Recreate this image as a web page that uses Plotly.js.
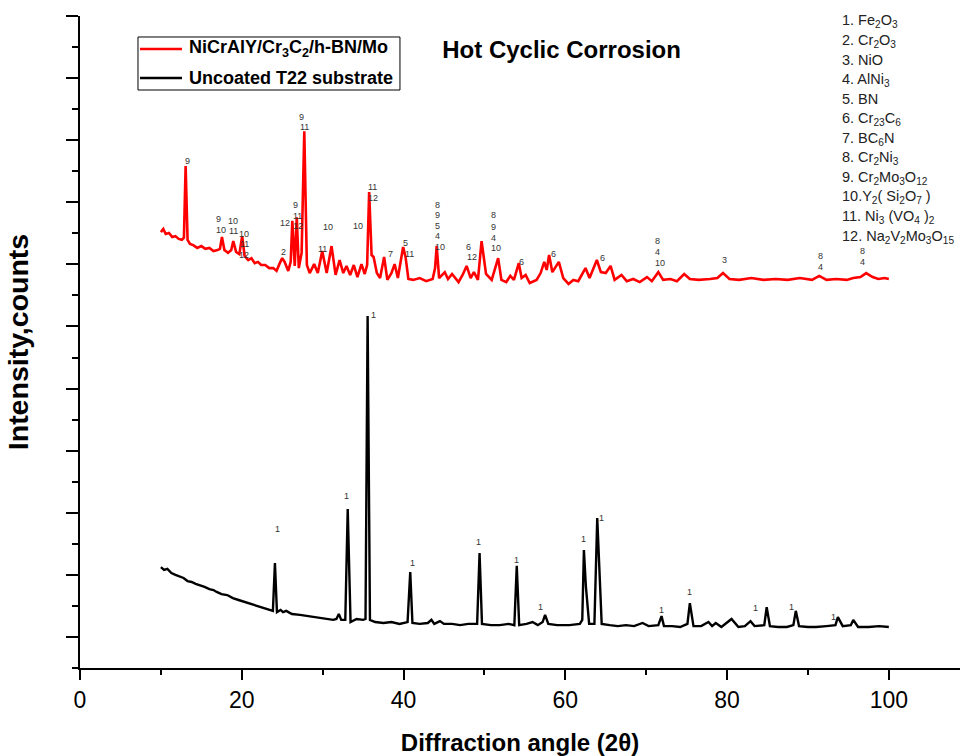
<!DOCTYPE html>
<html>
<head>
<meta charset="utf-8">
<script src="https://cdn.plot.ly/plotly-3.0.1.min.js"></script>
<style>html,body{margin:0;padding:0;background:#fff;}#chart{width:960px;height:756px;}</style>
</head>
<body>
<div id="chart"></div>
<script>
// ---- Data ----
const coatedAngle = [10.0,10.3,10.6,11.0,11.4,11.8,12.2,12.6,12.85,13.06,13.3,13.6,14.0,14.5,15.0,15.5,16.0,16.5,17.0,17.3,17.55,17.85,18.3,18.7,18.95,19.3,19.7,20.05,20.35,20.8,21.2,21.6,22.0,22.4,22.9,23.4,23.9,24.3,24.7,25.0,25.3,25.75,26.05,26.25,26.55,26.8,27.05,27.4,27.73,28.05,28.4,28.95,29.4,29.95,30.5,31.1,31.6,32.1,32.55,32.95,33.4,33.85,34.3,34.8,35.2,35.5,35.75,36.05,36.3,36.7,37.1,37.6,38.0,38.5,38.9,39.3,39.95,40.25,40.6,41.2,42.0,42.8,43.6,43.9,44.1,44.4,45.1,45.5,46.0,46.8,47.3,47.8,48.3,48.7,49.2,49.65,50.2,50.9,51.7,52.1,52.7,53.2,53.65,54.25,54.6,55.1,55.6,56.45,56.95,57.4,57.7,58.0,58.4,59.2,59.75,60.4,61.0,61.6,62.5,63.0,63.9,64.4,65.0,65.6,66.1,66.95,67.6,68.4,69.2,70.1,70.7,71.5,72.1,73.0,73.8,74.7,75.4,76.5,77.9,78.8,79.5,80.3,81.5,83.0,84.5,86.0,87.5,89.0,90.5,91.4,92.3,93.5,94.8,95.6,96.5,97.2,98.0,98.7,99.5,100.0];
const coatedCounts = [14.04,14.14,13.98,14.01,13.88,13.91,13.82,13.79,13.86,16.17,13.79,13.66,13.62,13.53,13.59,13.50,13.53,13.43,13.46,13.50,13.88,13.46,13.37,13.46,13.75,13.40,13.33,13.91,13.27,13.14,13.20,13.04,13.08,12.98,12.98,12.88,12.88,12.79,13.04,13.20,13.08,12.79,13.08,14.40,12.95,14.52,12.88,13.37,17.29,12.98,12.72,13.01,12.72,13.43,12.72,13.59,12.66,13.14,12.72,12.95,12.66,12.98,12.59,13.01,12.69,12.98,15.33,13.30,13.24,12.72,12.56,13.24,12.50,12.72,13.01,12.56,13.56,13.24,12.53,12.50,12.56,12.46,12.53,12.88,13.59,12.56,12.75,12.53,12.69,12.43,12.66,12.95,12.56,12.75,12.50,13.75,12.69,12.50,13.20,12.50,12.43,12.63,12.50,13.04,12.56,12.66,12.40,12.50,12.72,13.08,12.82,13.30,12.75,13.08,12.56,12.37,12.50,12.46,12.88,12.56,13.14,12.75,12.72,12.95,12.50,12.66,12.46,12.53,12.43,12.59,12.46,12.75,12.50,12.53,12.46,12.69,12.53,12.50,12.53,12.56,12.72,12.53,12.50,12.56,12.50,12.53,12.50,12.56,12.50,12.63,12.50,12.53,12.50,12.56,12.59,12.72,12.59,12.53,12.56,12.53];

const substrateAngle = [10.0,10.4,10.8,11.3,11.8,12.3,12.8,13.3,13.8,14.3,14.8,15.4,16.0,16.5,16.9,17.5,18.2,18.9,19.6,20.3,21.0,21.8,22.6,23.3,23.85,24.1,24.35,24.8,25.1,25.5,26.2,27.2,28.2,29.3,30.3,31.3,31.7,32.0,32.3,32.8,33.1,33.45,34.2,35.0,35.3,35.56,35.85,36.5,37.5,38.5,39.5,40.5,40.83,41.1,42.0,43.0,43.45,43.8,44.5,45.0,46.0,47.0,48.0,49.1,49.4,49.7,50.8,51.9,53.0,53.7,54.0,54.3,55.2,55.95,56.6,57.2,57.5,57.9,59.0,60.5,61.8,62.1,62.3,62.55,62.95,63.6,63.95,64.2,64.5,65.5,66.5,67.5,68.5,69.55,70.3,71.5,71.9,72.2,73.2,74.2,75.1,75.4,75.6,75.85,76.8,77.7,78.15,78.6,79.3,80.55,81.4,82.2,82.9,83.4,84.6,84.9,85.3,86.3,87.4,88.2,88.5,88.9,90.0,91.0,92.3,93.4,93.7,94.3,95.3,95.6,96.2,97.5,98.8,100.0];
const substrateCounts = [3.25,3.16,3.19,3.06,3.00,2.96,2.90,2.80,2.77,2.71,2.67,2.61,2.54,2.51,2.45,2.38,2.35,2.25,2.19,2.13,2.06,2.00,1.93,1.87,1.84,3.38,1.80,1.87,1.80,1.84,1.74,1.71,1.67,1.64,1.58,1.55,1.58,1.74,1.55,1.55,5.12,1.48,1.58,1.55,1.58,11.34,1.55,1.48,1.45,1.48,1.42,1.48,3.09,1.45,1.42,1.45,1.55,1.42,1.51,1.42,1.42,1.38,1.42,1.42,3.70,1.42,1.38,1.38,1.42,1.38,3.29,1.38,1.42,1.48,1.38,1.48,1.71,1.42,1.38,1.38,1.42,1.55,3.80,2.61,1.42,1.42,4.83,3.09,1.42,1.38,1.35,1.38,1.35,1.45,1.35,1.38,1.67,1.35,1.35,1.32,1.42,2.09,1.80,1.35,1.35,1.48,1.35,1.45,1.32,1.58,1.32,1.35,1.51,1.35,1.38,1.96,1.35,1.32,1.32,1.38,1.84,1.35,1.32,1.32,1.35,1.38,1.64,1.35,1.38,1.55,1.32,1.32,1.35,1.32];

// Peak phase labels (phase index number at a peak)
const coatedLabelAngle = [13.31,17.10,17.39,18.95,18.95,20.31,20.31,20.31,25.22,25.34,26.66,26.91,26.98,27.44,27.73,30.62,30.00,34.40,36.18,36.26,38.41,40.30,40.70,44.17,44.17,44.17,44.17,44.45,48.08,48.42,51.09,51.09,51.09,51.42,54.60,58.59,64.61,71.41,71.41,71.69,79.73,91.56,91.56,96.70,96.70];
const coatedLabelCounts = [16.33,14.45,14.11,14.41,14.07,13.97,13.65,13.30,13.40,14.32,14.91,14.56,14.23,17.76,17.41,14.20,13.48,14.24,15.48,15.13,13.33,13.68,13.33,14.91,14.58,14.24,13.90,13.56,13.57,13.23,14.59,14.22,13.86,13.52,13.09,13.33,13.19,13.75,13.41,13.06,13.14,13.27,12.91,13.44,13.09];
const coatedLabelText = ["9","9","10","10","11","10","11","12","2","12","9","11","12","9","11","10","11","10","11","12","7","5","11","8","9","5","4","10","6","12","8","9","4","10","6","6","6","8","4","10","3","8","4","8","4"];

const substrateLabelAngle = [24.39,32.97,36.34,41.12,49.32,53.98,56.98,62.21,64.52,71.90,75.40,83.56,87.97,93.11];
const substrateLabelCounts = [4.47,5.54,11.37,3.37,4.07,3.48,1.95,4.14,4.82,1.87,2.46,1.92,1.95,1.65];
const substrateLabelText = ["1","1","1","1","1","1","1","1","1","1","1","1","1","1"];

const phaseList = [
  "1. Fe<sub>2</sub>O<sub>3</sub>",
  "2. Cr<sub>2</sub>O<sub>3</sub>",
  "3. NiO",
  "4. AlNi<sub>3</sub>",
  "5. BN",
  "6. Cr<sub>23</sub>C<sub>6</sub>",
  "7. BC<sub>6</sub>N",
  "8. Cr<sub>2</sub>Ni<sub>3</sub>",
  "9. Cr<sub>2</sub>Mo<sub>3</sub>O<sub>12</sub>",
  "10.Y<sub>2</sub>( Si<sub>2</sub>O<sub>7</sub> )",
  "11. Ni<sub>3</sub> (VO<sub>4</sub> )<sub>2</sub>",
  "12. Na<sub>2</sub>V<sub>2</sub>Mo<sub>3</sub>O<sub>15</sub>"
];

const seriesNames = ["NiCrAlY/Cr<sub>3</sub>C<sub>2</sub>/h-BN/Mo", "Uncoated T22 substrate"];
const seriesColors = ['#ff0000', '#000000'];
const xTickVals = [0,20,40,60,80,100];

// ---- Build chart ----
const FONT = "Arial, 'Liberation Sans', sans-serif";
const traces = [
  {x: coatedAngle, y: coatedCounts, type: 'scatter', mode: 'lines', name: seriesNames[0],
   line: {color: seriesColors[0], width: 2.6}},
  {x: substrateAngle, y: substrateCounts, type: 'scatter', mode: 'lines', name: seriesNames[1],
   line: {color: seriesColors[1], width: 2.4}}
];

const annotations = [];
coatedLabelAngle.forEach((a, i) => annotations.push({
  x: a, y: coatedLabelCounts[i], xref: 'x', yref: 'y', text: coatedLabelText[i],
  showarrow: false, xanchor: 'center', yanchor: 'middle',
  font: {family: FONT, size: 9, color: '#333333'}
}));
substrateLabelAngle.forEach((a, i) => annotations.push({
  x: a, y: substrateLabelCounts[i], xref: 'x', yref: 'y', text: substrateLabelText[i],
  showarrow: false, xanchor: 'center', yanchor: 'middle',
  font: {family: FONT, size: 9, color: '#333333'}
}));
phaseList.forEach((t, i) => annotations.push({
  x: 0.864, y: (668 - (21 + i * 19.6)) / 652, xref: 'paper', yref: 'paper', text: t,
  showarrow: false, xanchor: 'left', yanchor: 'middle',
  font: {family: FONT, size: 14.5, color: '#222222'}
}));

// legend drawn as a framed box (paper coordinates)
const shapes = [
  {type: 'rect', xref: 'paper', yref: 'paper', x0: 0.0659, x1: 0.3636, y0: 0.8865, y1: 0.9678,
   line: {color: '#000', width: 1}, fillcolor: '#ffffff', layer: 'above'}
];
const legendRowsY = [0.9494, 0.9049];
seriesNames.forEach((n, i) => {
  shapes.push({type: 'line', xref: 'paper', yref: 'paper', x0: 0.0682, x1: 0.1159,
               y0: legendRowsY[i], y1: legendRowsY[i], line: {color: seriesColors[i], width: 2.4}, layer: 'above'});
  annotations.push({x: 0.1215, y: legendRowsY[i], xref: 'paper', yref: 'paper', text: '<b>' + n + '</b>',
                    showarrow: false, xanchor: 'left', yanchor: 'middle',
                    font: {family: FONT, size: 18, color: '#000'}});
});

const layout = {
  width: 960, height: 756,
  margin: {l: 80, r: 0, t: 16, b: 88},
  paper_bgcolor: '#ffffff', plot_bgcolor: '#ffffff',
  font: {family: FONT, color: '#000'},
  title: {text: '<b>Hot Cyclic Corrosion</b>', font: {family: FONT, size: 24, color: '#000'},
          x: 0.585, xref: 'container', xanchor: 'center', y: 0.935, yanchor: 'middle'},
  showlegend: false,
  xaxis: {range: [0, 108.8], showgrid: false, zeroline: false, showline: true, linecolor: '#000', linewidth: 2,
          tickmode: 'array', tickvals: xTickVals, ticks: 'outside', ticklen: 10, tickwidth: 2, tickcolor: '#000',
          minor: {dtick: 10, tick0: 0, ticks: 'outside', ticklen: 5, tickwidth: 2, tickcolor: '#000'},
          tickfont: {family: FONT, size: 23, color: '#000'},
          title: {text: '<b>Diffraction angle (2θ)</b>', font: {family: FONT, size: 24, color: '#000'}, standoff: 24},
          automargin: false},
  yaxis: {range: [0, 21], showgrid: false, zeroline: false, showline: true, linecolor: '#000', linewidth: 2,
          tick0: 1, dtick: 2, ticks: 'outside', ticklen: 12, tickwidth: 2, tickcolor: '#000', showticklabels: false,
          minor: {dtick: 1, tick0: 0, ticks: 'outside', ticklen: 6, tickwidth: 2, tickcolor: '#000'},
          title: {text: '<b>Intensity,counts</b>', font: {family: FONT, size: 28.5, color: '#000'}, standoff: 29},
          automargin: false},
  shapes: shapes,
  annotations: annotations
};

Plotly.newPlot('chart', traces, layout, {displayModeBar: false, staticPlot: true});
</script>
</body>
</html>
